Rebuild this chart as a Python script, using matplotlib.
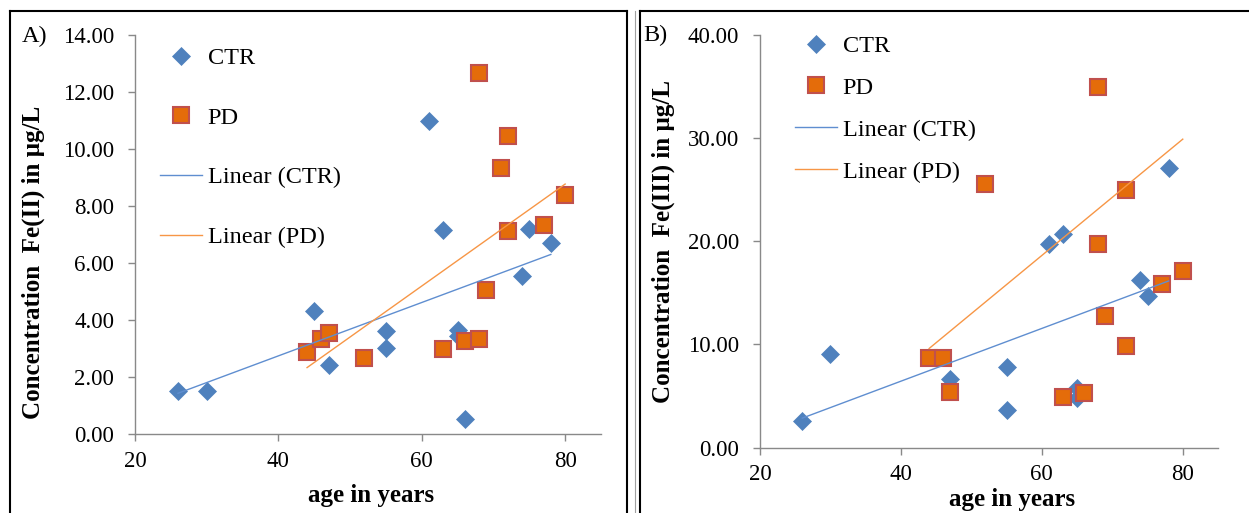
import matplotlib
matplotlib.use("Agg")
import matplotlib.pyplot as plt
from matplotlib.lines import Line2D

plt.rcParams['font.family'] = ['Liberation Serif', 'DejaVu Serif']

# Fe(II), panel A
ctr_age_a = [26, 30, 45, 47, 55, 55, 61, 63, 65, 65, 66, 74, 75, 78]
ctr_fe2 = [1.50, 1.50, 4.30, 2.43, 3.62, 3.01, 11.00, 7.15, 3.65, 3.45, 0.52, 5.53, 7.19, 6.70]
pd_age_a = [44, 46, 47, 52, 63, 66, 68, 68, 69, 71, 72, 72, 77, 80]
pd_fe2 = [2.87, 3.34, 3.54, 2.68, 2.99, 3.26, 3.34, 12.65, 5.06, 9.34, 10.45, 7.14, 7.32, 8.40]

# Fe(III), panel B
ctr_age_b = [26, 30, 47, 55, 55, 61, 63, 65, 65, 74, 75, 78]
ctr_fe3 = [2.58, 9.07, 6.64, 7.77, 3.62, 19.73, 20.70, 5.79, 4.76, 16.26, 14.70, 27.10]
pd_age_b = [44, 46, 47, 52, 63, 66, 68, 68, 69, 72, 72, 77, 80]
pd_fe3 = [8.71, 8.71, 5.40, 25.56, 4.86, 5.25, 34.95, 19.76, 12.76, 25.00, 9.84, 15.87, 17.07]

# linear trend values at youngest / oldest age of each group
trend_a_ctr = [1.43, 6.30]
trend_a_pd = [2.33, 8.77]
trend_b_ctr = [2.85, 16.15]
trend_b_pd = [9.60, 29.90]

x_ticks = [20, 40, 60, 80]

W, H = 1249, 513
fig = plt.figure(figsize=(W / 100, H / 100), dpi=100)

BLUE = '#4F81BD'
ORANGE = '#E46C0A'
EDGE = '#C0504D'
AXC = '#898989'


def px(x, y):
    return x / W, 1 - y / H


def draw_panel(rect, ctr_x, ctr_y, pd_x, pd_y, t_ctr, t_pd, ymax, ystep,
               ylabel, ylab_pos, xlab_pos, leg_anchor, leg_spacing):
    ax = fig.add_axes(rect)
    ax.plot(ctr_x, ctr_y, 'D', ms=8.7, mfc=BLUE, mec=BLUE, mew=0.5,
            ls='none', label='CTR', zorder=3)
    ax.plot(pd_x, pd_y, 's', ms=11, mfc=ORANGE, mec=EDGE, mew=1.5,
            ls='none', label='PD', zorder=4)
    ax.plot([min(ctr_x), max(ctr_x)], t_ctr, color='#5F8ED0', lw=1.0,
            label='Linear (CTR)', zorder=5)
    ax.plot([min(pd_x), max(pd_x)], t_pd, color='#F79646', lw=1.0,
            label='Linear (PD)', zorder=5)

    ax.set_xlim(20, 85)
    ax.set_ylim(0, ymax)
    ax.set_xticks(x_ticks)
    yt = [i * ystep for i in range(int(round(ymax / ystep)) + 1)]
    ax.set_yticks(yt)
    ax.set_yticklabels(['%.2f' % v for v in yt])
    for s in ['top', 'right']:
        ax.spines[s].set_visible(False)
    for s in ['left', 'bottom']:
        ax.spines[s].set_color(AXC)
        ax.spines[s].set_linewidth(1.0)
    ax.tick_params(axis='both', direction='out', length=5, width=1,
                   color=AXC, labelsize=16.5, labelcolor='black')
    ax.tick_params(axis='y', pad=10)
    ax.tick_params(axis='x', pad=7)

    ax.set_ylabel(ylabel, fontsize=18, fontweight='bold')
    ax.yaxis.set_label_coords(*ylab_pos)
    ax.yaxis.label.set_va('center')
    ax.set_xlabel('age in years', fontsize=18, fontweight='bold')
    ax.xaxis.set_label_coords(*xlab_pos)
    ax.xaxis.label.set_va('center')

    ax.legend(loc='upper left', bbox_to_anchor=leg_anchor,
              bbox_transform=fig.transFigure, frameon=False, fontsize=17.5,
              borderpad=0, borderaxespad=0, handlelength=1.72,
              handletextpad=0.24, labelspacing=leg_spacing)
    return ax


draw_panel([135 / W, 1 - 434 / H, 466 / W, 399 / H],
           ctr_age_a, ctr_fe2, pd_age_a, pd_fe2, trend_a_ctr, trend_a_pd,
           14, 2, 'Concentration  Fe(II) in µg/L',
           (-0.2176, 0.431), (0.5075, -0.153),
           px(160, 47), 1.55)

draw_panel([760 / W, 1 - 447.5 / H, 458 / W, 412.5 / H],
           ctr_age_b, ctr_fe3, pd_age_b, pd_fe3, trend_b_ctr, trend_b_pd,
           40, 10, 'Concentration  Fe(III) in µg/L',
           (-0.2118, 0.4994), (0.550, -0.127),
           px(795, 35), 0.82)

fig.text(*px(21.7, 36.7), 'A)', fontsize=17.5, ha='left', va='center')
fig.text(*px(643, 35), 'B)', fontsize=17.5, ha='left', va='center')

# panel frames
def fline(xs, ys, color='black', lw=1.5):
    fig.add_artist(Line2D([x / W for x in xs], [1 - y / H for y in ys],
                          color=color, lw=lw))

fline([10, 10], [11, 520])
fline([10, 627], [11, 11])
fline([627, 627], [11, 520])
fline([635, 635], [11, 520], color='#A0A0A0', lw=0.8)
fline([640, 640], [11, 520])
fline([640, 1260], [11, 11])

fig.savefig('out.png', dpi=100)
